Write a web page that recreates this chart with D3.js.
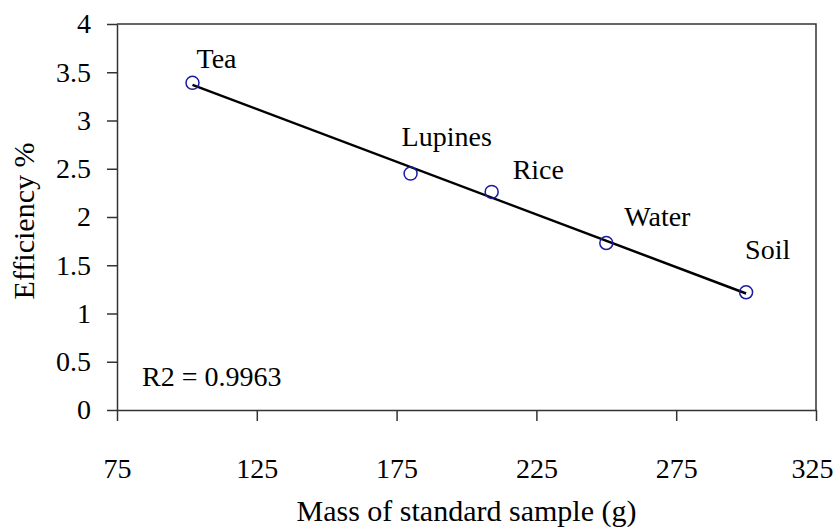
<!DOCTYPE html>
<html>
<head>
<meta charset="utf-8">
<script src="https://cdn.jsdelivr.net/npm/d3@7"></script>
<style>
  body { margin: 0; background: #fff; }
  svg text { font-family: "Liberation Serif", "Times New Roman", "Noto Serif", "DejaVu Serif", serif !important; fill: #000; }
</style>
</head>
<body>
<script>
// samples
var samples = ["Tea", "Lupines", "Rice", "Water", "Soil"];
var mass = [102, 180, 209, 250, 300];
var efficiency = [3.39, 2.45, 2.26, 1.73, 1.22];
var xTicks = [75, 125, 175, 225, 275, 325];
var yTicks = [0, 0.5, 1, 1.5, 2, 2.5, 3, 3.5, 4];
var r2Label = "R2 = 0.9963";

var width = 835;
var height = 527;
var margin = {top: 24, right: 19, bottom: 117, left: 117};
var w = width - margin.left - margin.right;
var h = height - margin.top - margin.bottom;
var fontSize = 28;

var svg = d3.select("body").append("svg")
  .attr("width", width)
  .attr("height", height);

var g = svg.append("g")
  .attr("transform", "translate(" + margin.left + "," + margin.top + ")");

var x = d3.scaleLinear().domain([75, 325]).range([0, w]);
var y = d3.scaleLinear().domain([0, 4]).range([h, 0]);

// frame (top + right)
g.append("path")
  .attr("d", "M0,0H" + w + "V" + h)
  .attr("fill", "none")
  .attr("stroke", "#333")
  .attr("stroke-width", 1.5);

var xAxis = g.append("g")
  .attr("transform", "translate(0," + h + ")")
  .call(d3.axisBottom(x).tickValues(xTicks).tickSize(11).tickSizeOuter(0).tickPadding(37));

var yAxis = g.append("g")
  .call(d3.axisLeft(y).tickValues(yTicks).tickSize(10).tickSizeOuter(0).tickPadding(16)
    .tickFormat(function(d){ return d; }));

[xAxis, yAxis].forEach(function(a){
  a.attr("font-family", null).attr("font-size", fontSize);
  a.select(".domain").attr("stroke", "#333").attr("stroke-width", 1.5);
  a.selectAll(".tick line").attr("stroke", "#333").attr("stroke-width", 1.5);
  a.selectAll(".tick text").attr("fill", "#000");
});
// last x label sits right at the page edge, pull it in a bit
xAxis.selectAll(".tick text").filter(function(d){ return d === 325; }).attr("dx", -4);

// linear trend line (least squares)
var pts = mass.map(function(m, i){ return {m: m, e: efficiency[i], name: samples[i]}; });
var mx = d3.mean(mass), my = d3.mean(efficiency);
var sxy = d3.sum(pts, function(p){ return (p.m - mx) * (p.e - my); });
var sxx = d3.sum(pts, function(p){ return (p.m - mx) * (p.m - mx); });
var slope = sxy / sxx;
var icpt = my - slope * mx;
var xr = d3.extent(mass);

g.append("line")
  .attr("x1", x(xr[0])).attr("y1", y(icpt + slope * xr[0]))
  .attr("x2", x(xr[1])).attr("y2", y(icpt + slope * xr[1]))
  .attr("stroke", "#000")
  .attr("stroke-width", 2.5);

g.selectAll("circle").data(pts).enter().append("circle")
  .attr("cx", function(d){ return x(d.m); })
  .attr("cy", function(d){ return y(d.e); })
  .attr("r", 6.5)
  .attr("fill", "none")
  .attr("stroke", "#1a1aa0")
  .attr("stroke-width", 1.5);

// point labels, offset up-right of each marker
var labelOff = {Tea: [4, -15], Lupines: [-9, -28], Rice: [21, -13], Water: [18, -17], Soil: [-1, -33]};
g.selectAll(".lbl").data(pts).enter().append("text")
  .attr("class", "lbl")
  .attr("x", function(d){ return x(d.m) + labelOff[d.name][0]; })
  .attr("y", function(d){ return y(d.e) + labelOff[d.name][1]; })
  .attr("font-size", fontSize)
  .text(function(d){ return d.name; });

g.append("text")
  .attr("x", 25)
  .attr("y", y(0.5) + 24)
  .attr("font-size", fontSize)
  .text(r2Label);

// axis titles
svg.append("text")
  .attr("x", margin.left + w / 2)
  .attr("y", 521)
  .attr("text-anchor", "middle")
  .attr("font-size", 30)
  .text("Mass of standard sample (g)");

svg.append("text")
  .attr("transform", "translate(34," + (margin.top + h / 2 + 4) + ") rotate(-90)")
  .attr("text-anchor", "middle")
  .attr("font-size", 30)
  .text("Efficiency %");
</script>
</body>
</html>
